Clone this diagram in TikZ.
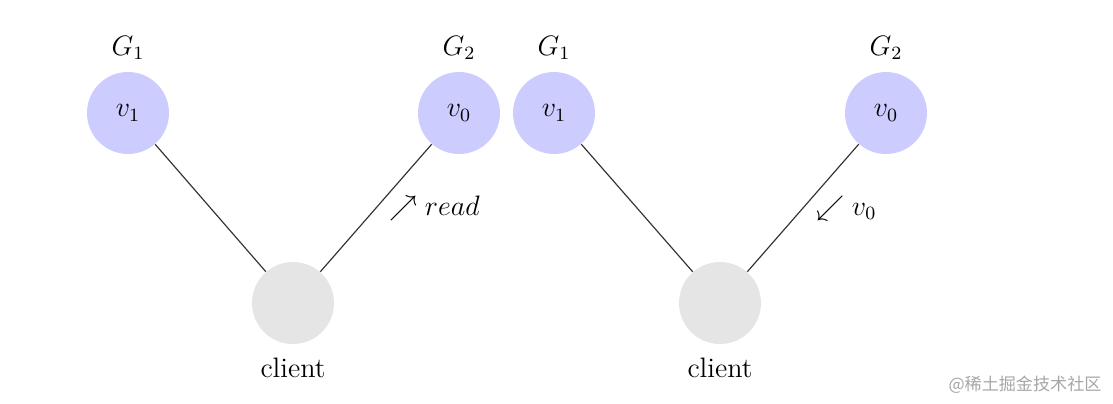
\documentclass[tikz,border=0pt]{standalone}
\usepackage{fontspec}
\newfontfamily\cjk{Noto Sans CJK SC}
\begin{document}
\begin{tikzpicture}[x=0.427pt,y=-0.427pt,
  every node/.style={font=\large},
  vnode/.style={circle,fill=blue!20,minimum size=82*0.427pt,inner sep=0pt},
  cnode/.style={circle,fill=gray!20,minimum size=82*0.427pt,inner sep=0pt},
  edge/.style={draw=black!80,line width=0.5pt}]
\useasboundingbox (0,0) rectangle (1113,403);
% left
\node[vnode] (l1) at (128,113) {$v_1$};
\node[vnode] (l0) at (459,113) {$v_0$};
\node[cnode] (lc) at (293,303) {};
\node (lg1) at (128,48) {$G_1$};
\node (lg2) at (459,48) {$G_2$};
\node (lcl) at (293,368) {client};
\draw[edge] (l1) -- (lc);
\draw[edge] (lc) -- node[right=2pt] (lr) {$\nearrow read$} (l0);
% right
\node[vnode] (r1) at (554,113) {$v_1$};
\node[vnode] (r0) at (886,113) {$v_0$};
\node[cnode] (rc) at (720,303) {};
\node (rg1) at (554,48) {$G_1$};
\node (rg2) at (886,48) {$G_2$};
\node (rcl) at (720,368) {client};
\draw[edge] (r1) -- (rc);
\draw[edge] (rc) -- node[right=2pt] (rv) {$\swarrow v_0$} (r0);
% watermark
\node[text=black!35,font=\cjk\fontsize{7.3pt}{8pt}\selectfont] (wm) at (1025,385) {@稀土掘金技术社区};
\end{tikzpicture}
\end{document}
